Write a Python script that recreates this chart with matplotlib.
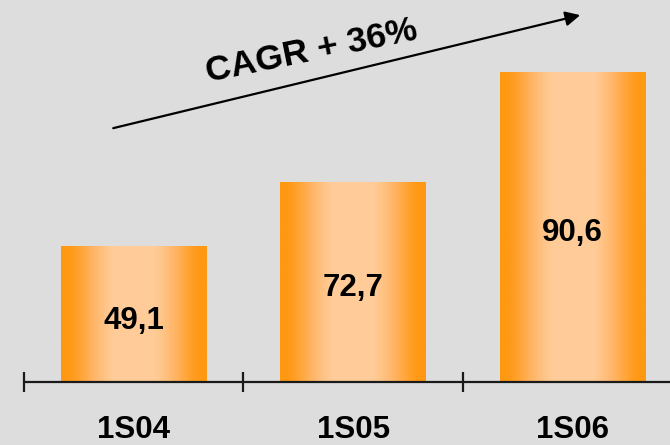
import numpy as np
import matplotlib.pyplot as plt
from matplotlib.colors import LinearSegmentedColormap

categories = ['1S04', '1S05', '1S06']
values = [49.1, 72.7, 90.6]
# heights as drawn in the picture (last bar is not to scale)
bar_heights = [49.1, 72.7, 112.7]

bg = '#dddddd'
fig = plt.figure(figsize=(6.7, 4.45), dpi=100, facecolor=bg)
ax = fig.add_axes([0, 0, 1, 1])
ax.set_facecolor(bg)
ax.axis('off')

# horizontal orange gradient: dark edges, light middle
cmap = LinearSegmentedColormap.from_list('og', ['#ff9812', '#ffb25e', '#ffcc99'])
t = np.linspace(-1, 1, 300)
d = np.clip((1 - np.abs(t) - 0.08) / 0.66, 0, 1)
grad = (d * d * (3 - 2 * d) * 0.5 + d * 0.5).reshape(1, -1)

x = np.arange(len(categories))
w = 0.665
for xi, h, v in zip(x, bar_heights, values):
    ax.imshow(grad, cmap=cmap, vmin=0, vmax=1, aspect='auto',
              extent=(xi - w / 2, xi + w / 2, 0, h), zorder=2)
    ax.text(xi, h / 2 - 5.1, f'{v:.1f}'.replace('.', ','), ha='center', va='baseline',
            fontsize=22.5, fontweight='bold', family='Liberation Sans', zorder=3)

# axis line with tick marks between categories
bounds = np.arange(len(categories) + 1) - 0.5
ax.plot([bounds[0], 3.0], [0, 0], color='#1a1a1a', lw=1.6, zorder=4, solid_capstyle='butt')
ax.vlines(bounds[:-1], -3.5, 3.5, color='#1a1a1a', lw=1.6, zorder=4)

for xi, c in zip(x, categories):
    ax.text(xi, -17.5, c, ha='center', va='center', fontsize=22.5,
            fontweight='bold', family='Liberation Sans')

ax.set_xlim(-0.609, 2.443)
ax.set_ylim(-22.9, 138.9)

ax.annotate('', xy=(0.866, 0.966), xytext=(0.169, 0.712), xycoords='axes fraction',
            arrowprops=dict(arrowstyle='-|>', lw=1.6, color='black', mutation_scale=22,
                            shrinkA=0, shrinkB=0))
ax.text(0.465, 0.885, 'CAGR + 36%', transform=ax.transAxes, rotation=11.5,
        ha='center', va='center', fontsize=25.5, fontweight='bold',
        family='Liberation Sans', rotation_mode='anchor')

fig.savefig('out.png', dpi=100, facecolor=bg)
